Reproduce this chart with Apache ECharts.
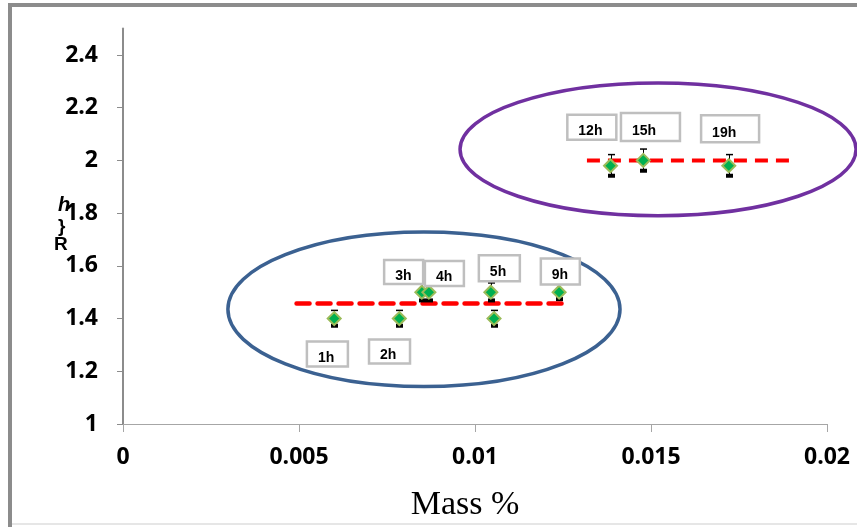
<!DOCTYPE html>
<html>
<head>
<meta charset="utf-8">
<script src="https://cdn.jsdelivr.net/npm/echarts@6/dist/echarts.min.js"></script>
<style>
html,body{margin:0;padding:0;background:#fff;}
#chart{width:857px;height:527px;}
</style>
</head>
<body>
<div id="chart"></div>
<script>
// ---- data ----
const massPct   = [0.0060, 0.00785, 0.00849, 0.00869, 0.01045, 0.01054, 0.01239, 0.01385, 0.01478, 0.01721];
const rValues   = [1.40, 1.40, 1.50, 1.50, 1.50, 1.40, 1.50, 1.98, 2.00, 1.98];
const rErrors   = [0.031, 0.031, 0.035, 0.035, 0.035, 0.031, 0.030, 0.042, 0.043, 0.042];
const timeLabels = ['1h', '2h', '3h', '4h', '5h', '', '9h', '12h', '15h', '19h'];

const meanLowX  = [0.00493, 0.01256];
const meanLowY  = [1.457, 1.457];
const meanHighX = [0.01318, 0.01897];
const meanHighY = [2.0, 2.0];

const ellipseCx = [0.00855, 0.0152];
const ellipseCy = [1.435, 2.042];
const ellipseRx = [0.00557, 0.005625];
const ellipseRy = [0.293, 0.2516];

const xTicks = [0, 0.005, 0.01, 0.015, 0.02];
const yTickMin = 1, yTickMax = 2.5, yTickStep = 0.2;

// ---- layout (pixel offsets of label boxes relative to their points) ----
const labelBoxes = [
  [-6.8, 35.5, 41, 25], [-9.8, 33, 41, 24], [-18.2, -20.3, 39, 24], [15.5, -18.8, 39, 25],
  [8.5, -24, 41, 26], null, [1.2, -20.7, 39, 26], [-18.7, -38.5, 49, 25],
  [7.2, -33.3, 59, 28], [1.3, -37, 58, 27]
];
const ellipseColors = ['#3b6191', '#7030a0'];

const chart = echarts.init(document.getElementById('chart'));

const pointData = massPct.map((x, i) => [x, rValues[i]]);
const errData = massPct.map((x, i) => [x, rValues[i] - rErrors[i], rValues[i] + rErrors[i]]);
const ellData = ellipseCx.map((cx, i) => [cx, ellipseCy[i], ellipseRx[i], ellipseRy[i], i]);
const labData = massPct.map((x, i) => [x, rValues[i], i]);

const option = {
  animation: false,
  backgroundColor: '#ffffff',
  grid: { left: 123, right: 30, top: 28.6, bottom: 102, containLabel: false },
  xAxis: {
    type: 'value', min: xTicks[0], max: xTicks[xTicks.length - 1], interval: xTicks[1] - xTicks[0],
    name: 'Mass %', nameLocation: 'middle', nameGap: 64,
    nameTextStyle: { fontFamily: 'Liberation Serif', fontSize: 34, color: '#000', padding: [0, 20, 0, 0] },
    axisLine: { lineStyle: { color: '#a6a6a6', width: 1 } },
    axisTick: { show: true, length: 8, lineStyle: { color: '#a6a6a6' } },
    splitLine: { show: false },
    axisLabel: {
      margin: 22, color: '#000', fontFamily: 'Open Sans', fontWeight: 'bold', fontSize: 23,
      formatter: v => String(Number(v.toFixed(4)))
    }
  },
  yAxis: {
    type: 'value', min: yTickMin, max: yTickMax, interval: yTickStep,
    axisLine: { show: true, lineStyle: { color: '#8c8c8c', width: 2 } },
    axisTick: { show: true, length: 6, lineStyle: { color: '#8c8c8c' } },
    splitLine: { show: false },
    axisLabel: {
      margin: 25, color: '#000', fontFamily: 'Open Sans', fontWeight: 'bold', fontSize: 23,
      showMaxLabel: false,
      formatter: v => (Math.abs(v - yTickMax) < 1e-9 ? '' : String(Number(v.toFixed(1))))
    }
  },
  graphic: [
    { type: 'rect', shape: { x: 8, y: 3, width: 860, height: 4 }, style: { fill: '#8c8c8c' }, z: 100 },
    { type: 'rect', shape: { x: 8, y: 3, width: 4, height: 524 }, style: { fill: '#8c8c8c' }, z: 100 },
    { type: 'rect', shape: { x: 12, y: 523, width: 850, height: 2 }, style: { fill: '#e6e6e6' }, z: 100 },
    { type: 'text', left: 58, top: 195, style: { text: 'h', fontFamily: 'Liberation Sans', fontWeight: 'bold', fontStyle: 'italic', fontSize: 20, fill: '#000' } },
    { type: 'text', left: 58, top: 217, style: { text: '}', fontFamily: 'Liberation Sans', fontWeight: 'bold', fontSize: 19, fill: '#000' } },
    { type: 'text', left: 54, top: 235, style: { text: 'R', fontFamily: 'Liberation Sans', fontWeight: 'bold', fontSize: 19, fill: '#000' } }
  ],
  series: [
    {
      type: 'custom', name: 'groups', clip: false, z: 1, silent: true,
      data: ellData,
      renderItem: function (params, api) {
        const c = api.coord([api.value(0), api.value(1)]);
        const s = api.size([api.value(2), api.value(3)]);
        return {
          type: 'ellipse',
          shape: { cx: c[0], cy: c[1], rx: s[0], ry: s[1] },
          style: { fill: 'none', stroke: ellipseColors[api.value(4)], lineWidth: 3.5 }
        };
      }
    },
    {
      type: 'line', name: 'meanLow', z: 2, symbol: 'none', silent: true,
      data: meanLowX.map((x, i) => [x, meanLowY[i]]),
      lineStyle: { color: '#ff0000', width: 4.5, type: [13, 8], cap: 'round' }
    },
    {
      type: 'line', name: 'meanHigh', z: 2, symbol: 'none', silent: true,
      data: meanHighX.map((x, i) => [x, meanHighY[i]]),
      lineStyle: { color: '#ff0000', width: 4, type: [13, 8] }
    },
    {
      type: 'custom', name: 'err', z: 3, silent: true,
      data: errData,
      renderItem: function (params, api) {
        const top = api.coord([api.value(0), api.value(2)]);
        const bot = api.coord([api.value(0), api.value(1)]);
        const x = Math.round(top[0]) + 0.5;
        return {
          type: 'group',
          children: [
            { type: 'line', shape: { x1: x, y1: top[1], x2: x, y2: bot[1] }, style: { stroke: '#000', lineWidth: 1 } },
            { type: 'line', shape: { x1: x - 3.5, y1: top[1], x2: x + 3.5, y2: top[1] }, style: { stroke: '#000', lineWidth: 1.5 } },
            { type: 'rect', shape: { x: x - 3.5, y: bot[1] - 3, width: 7, height: 4 }, style: { fill: '#000' } }
          ]
        };
      }
    },
    {
      type: 'scatter', name: 'R', z: 4,
      data: pointData,
      symbol: 'diamond', symbolSize: 13,
      itemStyle: { color: '#00b050', borderColor: '#9bbb59', borderWidth: 2, opacity: 1 }
    },
    {
      type: 'custom', name: 'labels', z: 5, clip: false, silent: true,
      data: labData,
      renderItem: function (params, api) {
        const i = api.value(2);
        const b = labelBoxes[i];
        if (!b || !timeLabels[i]) return null;
        const p = api.coord([api.value(0), api.value(1)]);
        const cx = p[0] + b[0], cy = p[1] + b[1];
        const x0 = cx - b[2] / 2, y0 = cy - b[3] / 2;
        return {
          type: 'group',
          children: [
            { type: 'rect', shape: { x: x0, y: y0, width: b[2], height: b[3] },
              style: { fill: '#fff', stroke: '#bfbfbf', lineWidth: 2.5 } },
            { type: 'text', x: x0 + 11, y: cy + 4,
              style: { text: timeLabels[i], fill: '#000', fontFamily: 'Liberation Sans', fontWeight: 'bold',
                       fontSize: 14, textAlign: 'left', textVerticalAlign: 'middle' } }
          ]
        };
      }
    }
  ]
};
chart.setOption(option);
</script>
</body>
</html>
